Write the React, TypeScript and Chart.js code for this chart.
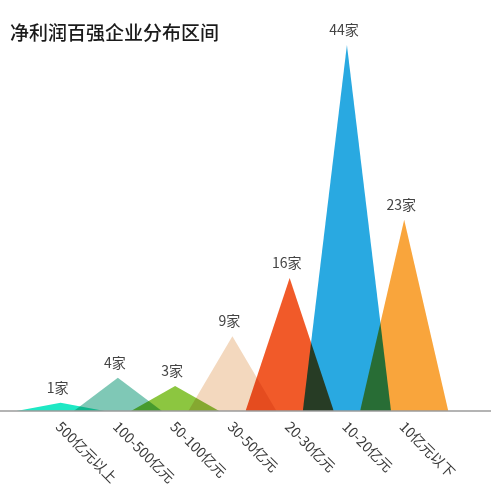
import React, { useEffect, useRef } from "react";
import { Chart, registerables } from "chart.js";

Chart.register(...registerables);

const TITLE = "净利润百强企业分布区间";
const categories = [
  "500亿元以上",
  "100-500亿元",
  "50-100亿元",
  "30-50亿元",
  "20-30亿元",
  "10-20亿元",
  "10亿元以下",
];
const companyCounts = [1, 4, 3, 9, 16, 44, 23];
const countUnit = "家";
const colors = ["#1ee8c4", "#7fc8b6", "#8cc640", "#f3d8be", "#f15a29", "#29a9e1", "#f9a53c"];

const HALF_WIDTH = 0.77;
const FONT = '"Noto Sans CJK SC", "Noto Sans", sans-serif';

const multiplyPlugin = {
  id: "multiplyBlend",
  beforeDatasetsDraw(chart: any) {
    chart.ctx.save();
    chart.ctx.globalCompositeOperation = "multiply";
  },
  afterDatasetsDraw(chart: any) {
    chart.ctx.restore();
    const { ctx, chartArea } = chart;
    ctx.save();
    ctx.strokeStyle = "#9b9b9b";
    ctx.lineWidth = 1.5;
    ctx.beginPath();
    ctx.moveTo(chartArea.left, chartArea.bottom);
    ctx.lineTo(chartArea.right, chartArea.bottom);
    ctx.stroke();
    ctx.restore();
  },
};

const labelsPlugin = {
  id: "customLabels",
  afterDraw(chart: any) {
    const { ctx, scales } = chart;
    const xs = scales.x;
    const ys = scales.y;
    ctx.save();
    // title
    ctx.fillStyle = "#1a1a1a";
    ctx.font = `500 19px ${FONT}`;
    ctx.textAlign = "left";
    ctx.textBaseline = "middle";
    ctx.fillText(TITLE, 10, 33);

    // peak labels
    ctx.fillStyle = "#444";
    ctx.font = `14px ${FONT}`;
    ctx.textAlign = "center";
    ctx.textBaseline = "middle";
    companyCounts.forEach((v, i) => {
      const px = xs.getPixelForValue(i);
      const py = ys.getPixelForValue(v);
      ctx.fillText(`${v}${countUnit}`, px - 3, py - 15);
    });

    // axis labels rotated
    ctx.fillStyle = "#3a3a3a";
    ctx.font = `14px ${FONT}`;
    ctx.textAlign = "left";
    ctx.textBaseline = "middle";
    categories.forEach((c, i) => {
      const px = xs.getPixelForValue(i);
      ctx.save();
      ctx.translate(px - 2, ys.getPixelForValue(0) + 13);
      ctx.rotate(Math.PI / 4);
      ctx.fillText(c, 0, 0);
      ctx.restore();
    });
    ctx.restore();
  },
};

export default function App() {
  const ref = useRef<HTMLCanvasElement | null>(null);
  useEffect(() => {
    if (!ref.current) return;
    const datasets = companyCounts.map((v, i) => ({
      label: categories[i],
      data: [
        { x: i - HALF_WIDTH, y: 0 },
        { x: i, y: v },
        { x: i + HALF_WIDTH, y: 0 },
      ],
      backgroundColor: colors[i],
      borderWidth: 0,
      borderColor: "rgba(0,0,0,0)",
      pointRadius: 0,
      tension: 0,
      fill: "origin",
    }));
    const chart = new Chart(ref.current, {
      type: "line",
      data: { datasets },
      options: {
        animation: false,
        responsive: true,
        maintainAspectRatio: false,
        layout: { padding: { left: 0, right: 8, top: 20, bottom: 85 } },
        plugins: {
          legend: { display: false },
          tooltip: { enabled: false },
          title: { display: false },
        },
        scales: {
          x: { type: "linear", min: -1.058, max: 7.516, display: false },
          y: { type: "linear", min: 0, max: 47, display: false },
        },
      },
      plugins: [multiplyPlugin, labelsPlugin],
    } as any);
    return () => chart.destroy();
  }, []);
  return (
    <div
      style={{
        position: "fixed",
        left: 0,
        top: 0,
        width: 499,
        height: 496,
        background: "#fff",
      }}
    >
      <canvas ref={ref} />
    </div>
  );
}
